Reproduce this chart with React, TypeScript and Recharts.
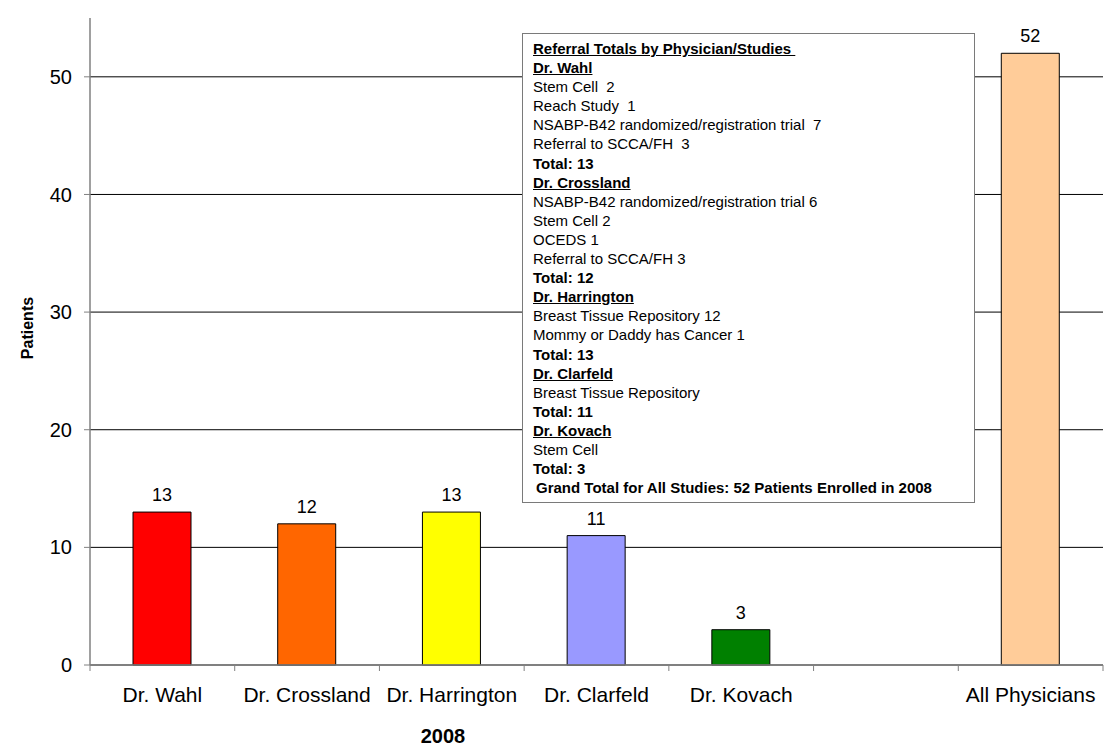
import React from "react";
import { BarChart, Bar, XAxis, YAxis, CartesianGrid, Cell, LabelList } from "recharts";

const categories = ["Dr. Wahl", "Dr. Crossland", "Dr. Harrington", "Dr. Clarfeld", "Dr. Kovach", "", "All Physicians"];
const patients: (number | null)[] = [13, 12, 13, 11, 3, null, 52];
const barColors = ["#FF0000", "#FF6600", "#FFFF00", "#9999FF", "#008000", "#FFFFFF", "#FFCC99"];
const yTicks = [0, 10, 20, 30, 40, 50];
const yDomain: [number, number] = [0, 55];

const xTitle = "2008";
const yTitle = "Patients";

type Line = { text: string; bold?: boolean; underline?: boolean; indent?: boolean };
const boxLines: Line[] = [
  { text: "Referral Totals by Physician/Studies ", bold: true, underline: true },
  { text: "Dr. Wahl", bold: true, underline: true },
  { text: "Stem Cell  2" },
  { text: "Reach Study  1" },
  { text: "NSABP-B42 randomized/registration trial  7" },
  { text: "Referral to SCCA/FH  3" },
  { text: "Total: 13", bold: true },
  { text: "Dr. Crossland", bold: true, underline: true },
  { text: "NSABP-B42 randomized/registration trial 6" },
  { text: "Stem Cell 2" },
  { text: "OCEDS 1" },
  { text: "Referral to SCCA/FH 3" },
  { text: "Total: 12", bold: true },
  { text: "Dr. Harrington", bold: true, underline: true },
  { text: "Breast Tissue Repository 12" },
  { text: "Mommy or Daddy has Cancer 1" },
  { text: "Total: 13", bold: true },
  { text: "Dr. Clarfeld", bold: true, underline: true },
  { text: "Breast Tissue Repository" },
  { text: "Total: 11", bold: true },
  { text: "Dr. Kovach", bold: true, underline: true },
  { text: "Stem Cell" },
  { text: "Total: 3", bold: true },
  { text: "Grand Total for All Studies: 52 Patients Enrolled in 2008", bold: true, indent: true },
];

const data = categories.map((name, i) => ({ name, value: patients[i] }));

const FONT = "'Liberation Sans', Arial, Helvetica, sans-serif";
const AXIS_GRAY = "#808080";

const XTick = (props: any) => {
  const { x, y, payload, index, visibleTicksCount } = props;
  const off = payload && typeof payload.offset === "number" ? payload.offset : 0;
  const isLast = index === (visibleTicksCount ?? categories.length) - 1;
  return (
    <g>
      <line x1={x - off} y1={y} x2={x - off} y2={y + 6} stroke={AXIS_GRAY} strokeWidth={1} />
      {isLast && <line x1={x + off} y1={y} x2={x + off} y2={y + 6} stroke={AXIS_GRAY} strokeWidth={1} />}
      <text x={x} y={y + 37} textAnchor="middle" fontSize={21} fill="#000" fontFamily={FONT}>
        {payload.value}
      </text>
    </g>
  );
};

const BarLabel = (props: any) => {
  const { x, y, width, value } = props;
  if (value === null || value === undefined) return null;
  return (
    <text x={x + width / 2} y={y - 11} textAnchor="middle" fontSize={18} fill="#000" fontFamily={FONT}>
      {value}
    </text>
  );
};

// Horizontal grid rows only at the tick values (no extra line at the top edge)
const gridRows = (props: any) => {
  const s = props?.yAxis?.scale;
  if (typeof s === "function") return yTicks.map((t) => s(t));
  if (s && typeof s.map === "function") return yTicks.map((t) => s.map(t));
  const off = props.offset;
  const [d0, d1] = yDomain;
  return yTicks.map((t) => off.top + off.height * (1 - (t - d0) / (d1 - d0)));
};

export default function App() {
  return (
    <div style={{ position: "absolute", left: 0, top: 0, width: 1107, height: 746, background: "#fff", fontFamily: FONT }}>
      <BarChart width={1107} height={746} data={data} margin={{ top: 18, right: 4, bottom: 0, left: 0 }}>
        <CartesianGrid
          horizontal={true}
          vertical={false}
          stroke="#000"
          strokeWidth={1}
          horizontalCoordinatesGenerator={gridRows}
        />
        <YAxis
          type="number"
          domain={yDomain}
          ticks={yTicks}
          width={90}
          axisLine={{ stroke: AXIS_GRAY, strokeWidth: 1.5 }}
          tickLine={{ stroke: AXIS_GRAY, strokeWidth: 1 }}
          tickSize={6}
          tickMargin={12}
          tick={{ fontSize: 20, fill: "#000", fontFamily: FONT }}
        />
        <XAxis
          dataKey="name"
          type="category"
          height={81}
          interval={0}
          axisLine={{ stroke: AXIS_GRAY, strokeWidth: 1.5 }}
          tickLine={false}
          tickSize={0}
          tickMargin={0}
          tick={<XTick />}
        />
        <Bar dataKey="value" barSize={58} stroke="#000" strokeWidth={1} isAnimationActive={false}>
          {data.map((d, i) => (
            <Cell key={i} fill={barColors[i]} />
          ))}
          <LabelList dataKey="value" content={<BarLabel />} />
        </Bar>
      </BarChart>

      <svg width={1107} height={746} style={{ position: "absolute", left: 0, top: 0, pointerEvents: "none" }}>
        <text x={443} y={743} textAnchor="middle" fontSize={20} fontWeight="bold" fill="#000" fontFamily={FONT}>
          {xTitle}
        </text>
        <text
          x={33}
          y={328}
          textAnchor="middle"
          fontSize={16}
          fontWeight="bold"
          fill="#000"
          fontFamily={FONT}
          transform="rotate(-90 33 328)"
        >
          {yTitle}
        </text>
      </svg>

      <div
        style={{
          position: "absolute",
          left: 522,
          top: 33,
          width: 453,
          height: 470,
          boxSizing: "border-box",
          border: "1.5px solid #7a7a7a",
          background: "#fff",
          padding: "5px 0 0 10px",
          fontFamily: FONT,
          fontSize: 15,
          lineHeight: "19.1px",
          color: "#000",
        }}
      >
        {boxLines.map((l, i) => (
          <div
            key={i}
            style={{
              whiteSpace: "pre",
              fontWeight: l.bold ? "bold" : "normal",
              paddingLeft: l.indent ? 3 : 0,
            }}
          >
            <span style={{ textDecoration: l.underline ? "underline" : "none" }}>{l.text}</span>
          </div>
        ))}
      </div>
    </div>
  );
}
